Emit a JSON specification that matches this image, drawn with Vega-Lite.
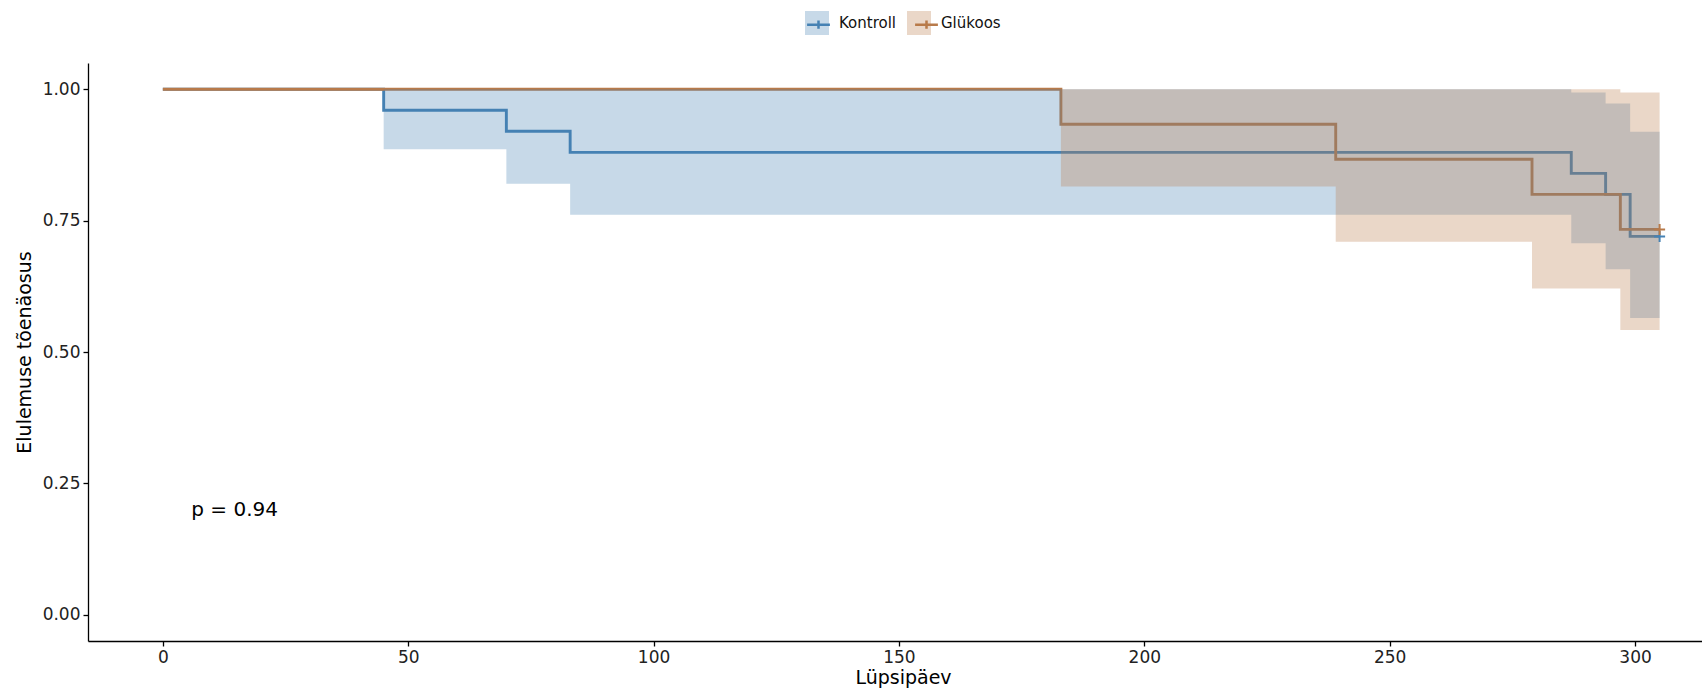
{
  "$schema": "https://vega.github.io/schema/vega-lite/v6.json",
  "autosize": {"type": "none"},
  "padding": {"left": 88, "top": 63, "right": 0, "bottom": 50},
  "width": 1630,
  "height": 578,
  "datasets": {
    "surv": [
      {"Strata": "Kontroll", "time": 0, "surv": 1.0},
      {"Strata": "Kontroll", "time": 45, "surv": 0.96},
      {"Strata": "Kontroll", "time": 70, "surv": 0.92},
      {"Strata": "Kontroll", "time": 83, "surv": 0.88},
      {"Strata": "Kontroll", "time": 287, "surv": 0.84},
      {"Strata": "Kontroll", "time": 294, "surv": 0.80},
      {"Strata": "Kontroll", "time": 299, "surv": 0.72},
      {"Strata": "Kontroll", "time": 305, "surv": 0.72},
      {"Strata": "Glükoos", "time": 0, "surv": 1.0},
      {"Strata": "Glükoos", "time": 183, "surv": 0.9333},
      {"Strata": "Glükoos", "time": 239, "surv": 0.8667},
      {"Strata": "Glükoos", "time": 279, "surv": 0.80},
      {"Strata": "Glükoos", "time": 297, "surv": 0.7333},
      {"Strata": "Glükoos", "time": 305, "surv": 0.7333}
    ],
    "band": [
      {"Group": "Kontroll", "time": 45, "lower": 0.886, "upper": 1.0},
      {"Group": "Kontroll", "time": 70, "lower": 0.82, "upper": 1.0},
      {"Group": "Kontroll", "time": 83, "lower": 0.761, "upper": 1.0},
      {"Group": "Kontroll", "time": 287, "lower": 0.707, "upper": 0.994},
      {"Group": "Kontroll", "time": 294, "lower": 0.6575, "upper": 0.973},
      {"Group": "Kontroll", "time": 299, "lower": 0.5645, "upper": 0.919},
      {"Group": "Kontroll", "time": 305, "lower": 0.5645, "upper": 0.919},
      {"Group": "Glükoos", "time": 183, "lower": 0.815, "upper": 1.0},
      {"Group": "Glükoos", "time": 239, "lower": 0.71, "upper": 1.0},
      {"Group": "Glükoos", "time": 279, "lower": 0.621, "upper": 1.0},
      {"Group": "Glükoos", "time": 297, "lower": 0.542, "upper": 0.994},
      {"Group": "Glükoos", "time": 305, "lower": 0.542, "upper": 0.994}
    ],
    "censor": [
      {"Cens": "Kontroll", "time": 305, "surv": 0.72},
      {"Cens": "Glükoos", "time": 305, "surv": 0.7333}
    ],
    "pval": [
      {"x": 5.8, "y": 0.2, "label": "p = 0.94"}
    ]
  },
  "encoding": {
    "x": {
      "field": "time", "type": "quantitative",
      "scale": {"domain": [-15.25, 316.9], "nice": false, "zero": false},
      "axis": {"values": [0, 50, 100, 150, 200, 250, 300], "title": "Lüpsipäev", "titlePadding": 3}
    }
  },
  "layer": [
    {
      "data": {"name": "surv"},
      "transform": [{"filter": "datum.Strata === 'Kontroll'"}],
      "mark": {"type": "line", "interpolate": "step-after", "strokeWidth": 2.9},
      "encoding": {
        "y": {
          "field": "surv", "type": "quantitative",
          "scale": {"domain": [-0.05, 1.05], "nice": false, "zero": false},
          "axis": {"values": [0, 0.25, 0.5, 0.75, 1], "format": ".2f", "title": "Elulemuse tõenäosus", "titlePadding": 8}
        },
        "stroke": {
          "field": "Strata", "type": "nominal",
          "scale": {"domain": ["Kontroll", "Glükoos"], "range": ["#4682B4", "#B87A4A"]},
          "legend": {
            "title": null, "orient": "none", "legendX": 717, "legendY": -52,
            "direction": "horizontal", "padding": 0,
            "symbolType": "M-0.95,0H0.95M0,-0.35V0.35", "symbolSize": 576,
            "symbolStrokeWidth": 2.5, "symbolFillColor": "transparent", "symbolOpacity": 1,
            "labelFont": "DejaVu Sans", "labelFontSize": 15, "labelOffset": 10,
            "columnPadding": 10, "labelOpacity": 0
          }
        }
      }
    },
    {
      "data": {"name": "surv"},
      "transform": [{"filter": "datum.Strata === 'Glükoos'"}],
      "mark": {"type": "line", "interpolate": "step-after", "strokeWidth": 2.9},
      "encoding": {
        "y": {"field": "surv", "type": "quantitative"},
        "stroke": {"field": "Strata", "type": "nominal"}
      }
    },
    {
      "data": {"name": "band"},
      "transform": [{"filter": "datum.Group === 'Kontroll'"}],
      "mark": {"type": "area", "interpolate": "step-after", "opacity": 0.3},
      "encoding": {
        "y": {"field": "lower", "type": "quantitative"},
        "y2": {"field": "upper"},
        "fill": {
          "field": "Group", "type": "nominal", "sort": "descending",
          "scale": {"range": ["#4682B4", "#B87A4A"]},
          "legend": {
            "title": null, "orient": "none", "legendX": 717, "legendY": -52,
            "direction": "horizontal", "padding": 0,
            "symbolType": "square", "symbolSize": 576, "symbolOpacity": 0.3,
            "symbolStrokeWidth": 0,
            "labelFont": "DejaVu Sans", "labelFontSize": 15, "labelOffset": 10,
            "labelColor": "#111", "columnPadding": 10
          }
        }
      }
    },
    {
      "data": {"name": "band"},
      "transform": [{"filter": "datum.Group === 'Glükoos'"}],
      "mark": {"type": "area", "interpolate": "step-after", "opacity": 0.3},
      "encoding": {
        "y": {"field": "lower", "type": "quantitative"},
        "y2": {"field": "upper"},
        "fill": {"field": "Group", "type": "nominal", "sort": "descending"}
      }
    },
    {
      "data": {"name": "censor"},
      "mark": {"type": "point", "shape": "M-1,0H1M0,-1V1", "size": 121, "strokeWidth": 2, "filled": false, "opacity": 1},
      "encoding": {
        "y": {"field": "surv", "type": "quantitative"},
        "color": {
          "field": "Cens", "type": "nominal",
          "scale": {"domain": ["Kontroll", "Glükoos"], "range": ["#4682B4", "#B87A4A"]},
          "legend": null
        }
      }
    },
    {
      "data": {"name": "pval"},
      "mark": {"type": "text", "align": "left", "baseline": "middle", "font": "DejaVu Sans", "fontSize": 20, "color": "#000"},
      "encoding": {
        "x": {"field": "x", "type": "quantitative"},
        "y": {"field": "y", "type": "quantitative"},
        "text": {"field": "label"}
      }
    }
  ],
  "config": {
    "view": {"stroke": null},
    "axis": {
      "grid": false,
      "domainColor": "#000", "domainWidth": 1.3,
      "tickColor": "#000", "tickWidth": 1.3, "tickSize": 5,
      "labelColor": "#222", "labelFont": "DejaVu Sans", "labelFontSize": 17, "labelPadding": 3,
      "titleFont": "DejaVu Sans", "titleFontSize": 19, "titleFontWeight": "normal", "titleColor": "#000"
    }
  }
}
